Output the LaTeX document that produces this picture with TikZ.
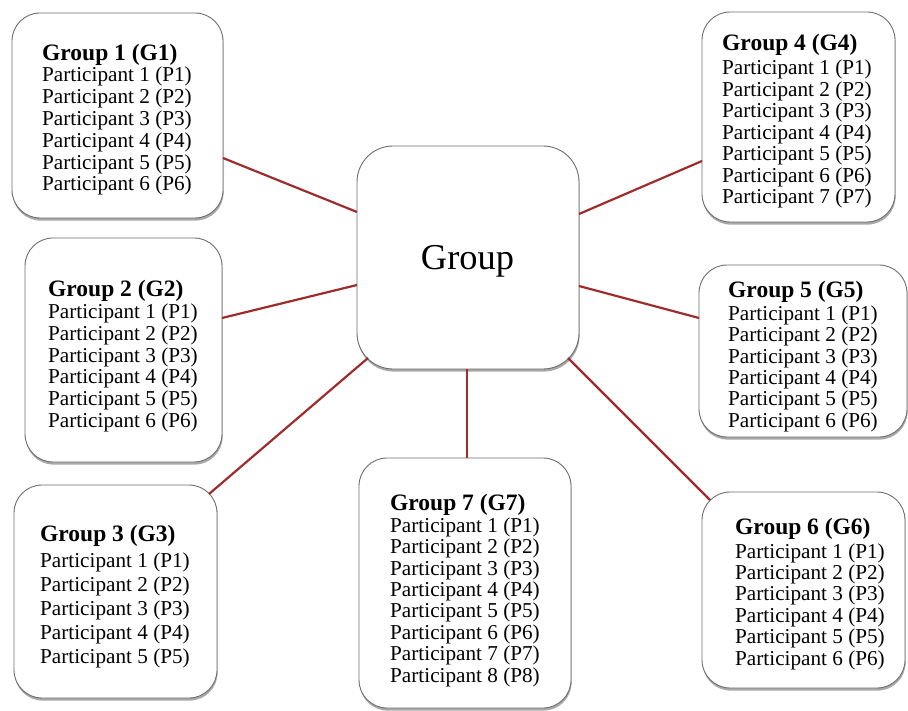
\documentclass[tikz,border=0pt]{standalone}
\usepackage{fontspec}
\setmainfont{Liberation Serif}
\usetikzlibrary{shadows,calc}
\definecolor{linkred}{RGB}{158,44,44}
\definecolor{boxline}{RGB}{110,110,110}
\tikzset{
  box/.style={draw=boxline, line width=0.9pt, fill=white, rounded corners=28pt,
    inner sep=0pt, outer sep=0pt,
    drop shadow={shadow xshift=0.6pt, shadow yshift=-2.6pt, opacity=0.45, fill=black!75}},
  bigbox/.style={box, rounded corners=36pt},
  ttl/.style={anchor=base west, inner sep=0pt, font=\fontsize{23.5}{24}\selectfont\bfseries},
  plist/.style={anchor=base west, inner sep=0pt, align=left, font=\fontsize{21.2}{#1}\selectfont},
  link/.style={draw=linkred, line width=2.2pt}
}
\begin{document}
\begin{tikzpicture}[x=1pt,y=-1pt]
\useasboundingbox (0,0) rectangle (908,711);
% boxes
\node[box, minimum width=211pt, minimum height=205pt] (g1) at (117.5,115.5) {};
\node[box, minimum width=197pt, minimum height=224pt] (g2) at (123.5,350) {};
\node[box, minimum width=203pt, minimum height=213pt] (g3) at (115.5,591.5) {};
\node[box, minimum width=193pt, minimum height=210pt] (g4) at (798.5,117) {};
\node[box, minimum width=208pt, minimum height=172pt] (g5) at (803,351) {};
\node[box, minimum width=203pt, minimum height=196pt] (g6) at (803.5,590) {};
\node[box, minimum width=212pt, minimum height=250pt] (g7) at (465,583) {};
\node[bigbox, minimum width=222pt, minimum height=223pt] (c) at (468,257.5) {};
% texts (list nodes are placed by the baseline of their last line)
\node[anchor=base, inner sep=0pt, font=\fontsize{36.4}{40}\selectfont] (ct) at (467.5,270) {Group};
\node[ttl] (t1) at (42,61) {Group 1 (G1)};
\node[plist=21.8] (p1) at (42,191) {Participant 1 (P1)\\Participant 2 (P2)\\Participant 3 (P3)\\Participant 4 (P4)\\Participant 5 (P5)\\Participant 6 (P6)};
\node[ttl] (t2) at (48,297) {Group 2 (G2)};
\node[plist=21.6] (p2) at (48,427) {Participant 1 (P1)\\Participant 2 (P2)\\Participant 3 (P3)\\Participant 4 (P4)\\Participant 5 (P5)\\Participant 6 (P6)};
\node[ttl] (t3) at (40,541) {Group 3 (G3)};
\node[plist=24] (p3) at (40,663) {Participant 1 (P1)\\Participant 2 (P2)\\Participant 3 (P3)\\Participant 4 (P4)\\Participant 5 (P5)};
\node[ttl] (t4) at (722,51) {Group 4 (G4)};
\node[plist=21.5] (p4) at (722,204) {Participant 1 (P1)\\Participant 2 (P2)\\Participant 3 (P3)\\Participant 4 (P4)\\Participant 5 (P5)\\Participant 6 (P6)\\Participant 7 (P7)};
\node[ttl] (t5) at (728,298) {Group 5 (G5)};
\node[plist=21.5] (p5) at (728,427.5) {Participant 1 (P1)\\Participant 2 (P2)\\Participant 3 (P3)\\Participant 4 (P4)\\Participant 5 (P5)\\Participant 6 (P6)};
\node[ttl] (t6) at (735,534) {Group 6 (G6)};
\node[plist=21.4] (p6) at (735,665) {Participant 1 (P1)\\Participant 2 (P2)\\Participant 3 (P3)\\Participant 4 (P4)\\Participant 5 (P5)\\Participant 6 (P6)};
\node[ttl] (t7) at (390,510) {Group 7 (G7)};
\node[plist=21.4] (p7) at (390,682) {Participant 1 (P1)\\Participant 2 (P2)\\Participant 3 (P3)\\Participant 4 (P4)\\Participant 5 (P5)\\Participant 6 (P6)\\Participant 7 (P7)\\Participant 8 (P8)};
% connectors
\draw[link] ($(g1.east)+(0,42.5)$) -- ($(c.west)+(0,-45.5)$);
\draw[link] ($(g2.east)+(0,-32)$) -- ($(c.west)+(0,27.5)$);
\draw[link] ($(g3.north east)+(-8,9)$) -- ($(c.south west)+(11,-11)$);
\draw[link] ($(g4.west)+(0,44)$) -- ($(c.east)+(0,-43.5)$);
\draw[link] ($(g5.west)+(0,-33)$) -- ($(c.east)+(0,28.5)$);
\draw[link] ($(g6.north west)+(8,8)$) -- ($(c.south east)+(-11,-11)$);
\draw[link] ($(c.south)+(-1,0)$) -- ($(g7.north)+(2,0)$);
\end{tikzpicture}
\end{document}
